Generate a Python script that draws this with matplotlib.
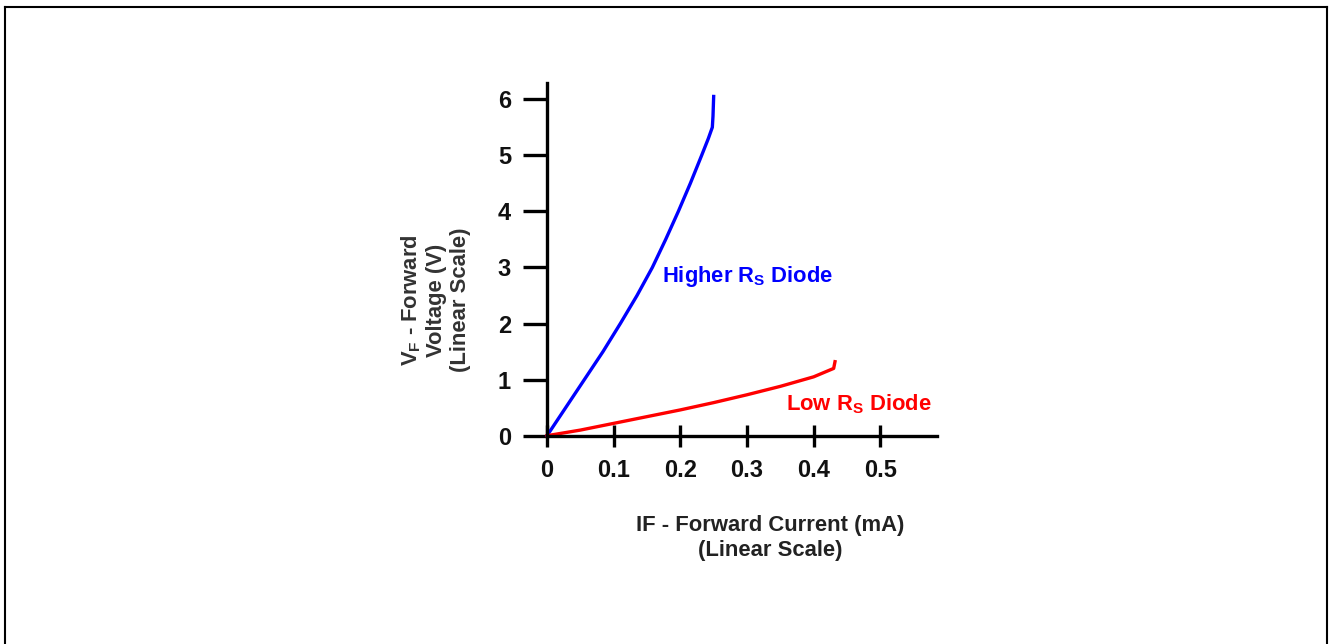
import matplotlib
matplotlib.use("Agg")
import matplotlib.pyplot as plt
from matplotlib.lines import Line2D

# Data
high_rs_current = [0.0, 0.028, 0.056, 0.084, 0.11, 0.135, 0.158, 0.178, 0.197, 0.215, 0.232, 0.242, 0.248, 0.249, 0.25]
high_rs_voltage = [0.0, 0.5, 1.0, 1.5, 2.0, 2.5, 3.0, 3.5, 4.0, 4.5, 5.0, 5.3, 5.5, 5.7, 6.05]
low_rs_current = [0.0, 0.05, 0.1, 0.15, 0.2, 0.25, 0.3, 0.35, 0.4, 0.43, 0.432]
low_rs_voltage = [0.0, 0.1, 0.22, 0.34, 0.46, 0.59, 0.73, 0.88, 1.05, 1.2, 1.32]
x_ticks = [0, 0.1, 0.2, 0.3, 0.4, 0.5]
x_tick_labels = ["0", "0.1", "0.2", "0.3", "0.4", "0.5"]
y_ticks = [0, 1, 2, 3, 4, 5, 6]
y_tick_labels = ["0", "1", "2", "3", "4", "5", "6"]

plt.rcParams['font.family'] = ['Liberation Sans', 'DejaVu Sans']

W, H = 1330, 644
fig = plt.figure(figsize=(W / 100, H / 100), dpi=100)
fig.patch.set_facecolor("white")

# outer frame (left, top, right)
fig.add_artist(Line2D([5 / W, 5 / W], [0, 1 - 7 / H], transform=fig.transFigure, color="black", lw=1.5))
fig.add_artist(Line2D([5 / W, 1327 / W], [1 - 7 / H, 1 - 7 / H], transform=fig.transFigure, color="black", lw=1.5))
fig.add_artist(Line2D([1327 / W, 1327 / W], [0, 1 - 7 / H], transform=fig.transFigure, color="black", lw=1.5))

x0, x1 = 547, 937
y0, y1 = 435.7, 83
ax = fig.add_axes([x0 / W, 1 - y0 / H, (x1 - x0) / W, (y0 - y1) / H])
ax.set_xlim(0, 0.585)
ax.set_ylim(0, 6.29)
ax.patch.set_alpha(0)

ax.plot(high_rs_current, high_rs_voltage, color="#0000ff", lw=2.4, clip_on=False)
ax.plot(low_rs_current, low_rs_voltage, color="#ff0000", lw=2.4, clip_on=False)

for s in ["top", "right"]:
    ax.spines[s].set_visible(False)
for s in ["left", "bottom"]:
    ax.spines[s].set_linewidth(2.4)
    ax.spines[s].set_color("black")

ax.set_xticks(x_ticks)
ax.set_xticklabels(x_tick_labels)
ax.set_yticks(y_ticks)
ax.set_yticklabels(y_tick_labels)
ax.tick_params(axis="x", direction="inout", length=16, width=2.4, pad=9, labelsize=17)
ax.tick_params(axis="y", direction="out", length=17, width=2.4, pad=9, labelsize=17)
for lab in ax.get_xticklabels() + ax.get_yticklabels():
    lab.set_fontweight("bold")
    lab.set_color("#111111")

ax.text(0.173, 2.84, "Higher R$_\\mathregular{S}$ Diode", color="#0000ff", fontsize=15.8,
        fontweight="bold", va="center", ha="left")
ax.text(0.358, 0.56, "Low R$_\\mathregular{S}$ Diode", color="#ff0000", fontsize=15.8,
        fontweight="bold", va="center", ha="left")

fig.text(770 / W, 1 - 538 / H, "IF - Forward Current (mA)\n(Linear Scale)", ha="center", va="center",
         fontsize=15.8, fontweight="bold", color="#222222", linespacing=1.2)
fig.text(435 / W, 1 - 300 / H, "V$_\\mathregular{F}$ - Forward\nVoltage (V)\n(Linear Scale)", ha="center",
         va="center", rotation=90, fontsize=15.8, fontweight="bold", color="#333333", linespacing=1.2)

fig.savefig("out.png", dpi=100)
